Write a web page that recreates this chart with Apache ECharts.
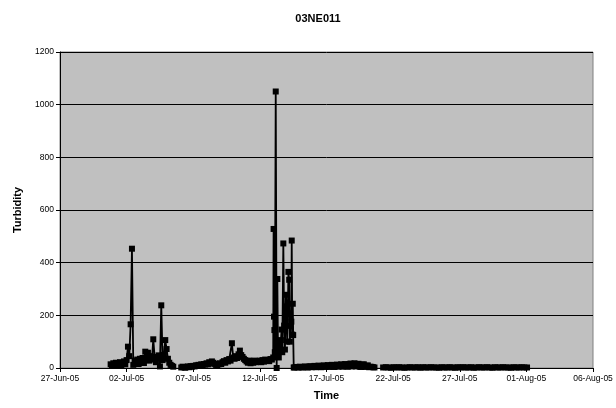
<!DOCTYPE html>
<html>
<head>
<meta charset="utf-8">
<script src="https://cdn.jsdelivr.net/npm/echarts@6/dist/echarts.min.js"></script>
<style>html,body{margin:0;padding:0;background:#fff}#c{width:616px;height:408px}</style>
</head>
<body>
<div id="c"></div>
<script>
// x values are days after 27-Jun-05 00:00
const tickLabels = ['27-Jun-05','02-Jul-05','07-Jul-05','12-Jul-05','17-Jul-05','22-Jul-05','27-Jul-05','01-Aug-05','06-Aug-05'];
const yTicks = [0, 200, 400, 600, 800, 1000, 1200];

const segAStart = 3.8, segAStep = 0.1;
const segAValues = [14,8,18,10,20,9,18,22,11,20,25,14,30,81,45,166,453,12,28,18,32,15,35,22,38,19,62,30,58,28,45,32,109,42,22,38,48,6,238,30,50,106,72,35,20,12,8,5];

const segBStart = 9.1, segBStep = 0.1;
const segBValues = [2,5,3,1,4,6,3,7,5,
  8,6,10,9,12,8,14,11,15,13,
  18,14,22,17,25,20,16,12,9,14,
  18,15,22,26,20,30,25,34,28,94,
  40,35,45,38,52,66,49,42,35,30,
  25,20,28,18,24,20,28,22,26,25,
  28,22,30,24,32,27,30,26,34,32];

const stormDays   = [16.0,16.03,16.06,16.09,16.12,16.19,16.26,16.31,16.36,16.42,16.47,16.53,16.58,16.63,16.68,16.76,16.82,16.88,16.96,17.0,17.05,17.1,17.14,17.2,17.25,17.3,17.36,17.39,17.43,17.47,17.5,17.54];
const stormValues = [40,528,195,144,60,1050,0,338,60,40,70,89,106,146,60,473,161,70,278,234,100,208,365,335,100,160,176,484,127,244,125,2];

const segCStart = 17.6, segCStep = 0.1;
const segCValues = [2,4,3,2,5,3,2,4,6,3,
  2,5,7,3,4,8,3,6,9,4,
  3,8,10,4,6,11,4,9,12,5,
  4,11,13,5,8,14,5,12,15,6,
  5,14,17,6,10,18,6,15,16,5,
  4,13,14,4,8,10,3,5,4,3,2];

const segDStart = 24.25, segDStep = 0.2;
const segDValues = [2,3,2,1,3,2,3,2,1,2,3,2,2,3,1,3,2,2,3,2,2,1,3,2,2,3,2,1,3,2,3,2,2,3,1,2,3,2,2,3,2,1,3,2,2,3,2,2,1,3,2,2,3,2,2];

function seg(start, step, vals) {
  return vals.map((v, i) => [+(start + i * step).toFixed(3), v]);
}
const seriesA = seg(segAStart, segAStep, segAValues);
const seriesB = seg(segBStart, segBStep, segBValues)
  .concat(stormDays.map((d, i) => [d, stormValues[i]]))
  .concat(seg(segCStart, segCStep, segCValues));
const seriesD = seg(segDStart, segDStep, segDValues);

const FONT = 'Liberation Sans, Arial, sans-serif';
function mk(data) {
  return {
    type: 'line', data: data, symbol: 'rect', symbolSize: 6,
    itemStyle: { color: '#000' },
    lineStyle: { color: '#000', width: 1.8 },
    animation: false, silent: true
  };
}
const chart = echarts.init(document.getElementById('c'), null, { renderer: 'canvas' });
chart.setOption({
  backgroundColor: '#fff',
  animation: false,
  title: {
    text: '03NE011', left: 313, top: 8, textAlign: 'center',
    textStyle: { fontFamily: FONT, fontSize: 11, fontWeight: 'bold', color: '#000' }
  },
  grid: {
    left: 60, right: 23, top: 52, bottom: 40, show: true,
    backgroundColor: '#C0C0C0', borderColor: '#808080', borderWidth: 1
  },
  xAxis: {
    type: 'value', min: 0, max: 40, interval: 5,
    name: 'Time', nameLocation: 'middle', nameGap: 22,
    nameTextStyle: { fontFamily: FONT, fontSize: 11, fontWeight: 'bold', color: '#000' },
    axisLine: { show: true, lineStyle: { color: '#000', width: 1 } },
    axisTick: { show: true, inside: false, length: 4, lineStyle: { color: '#000' } },
    axisLabel: {
      margin: 6, fontFamily: FONT, fontSize: 8.5, color: '#000',
      formatter: v => tickLabels[Math.round(v / 5)]
    },
    splitLine: { show: false }
  },
  yAxis: {
    type: 'value', min: yTicks[0], max: yTicks[yTicks.length - 1], interval: 200,
    name: 'Turbidity', nameLocation: 'middle', nameGap: 37,
    nameTextStyle: { fontFamily: FONT, fontSize: 11, fontWeight: 'bold', color: '#000' },
    axisLine: { show: true, lineStyle: { color: '#000', width: 1 } },
    axisTick: { show: true, inside: false, length: 4, lineStyle: { color: '#000' } },
    axisLabel: { margin: 6, fontFamily: FONT, fontSize: 8.5, color: '#000', formatter: v => String(v) },
    splitLine: { show: true, lineStyle: { color: '#000', width: 1 } }
  },
  series: [mk(seriesA), mk(seriesB), mk(seriesD)]
});
</script>
</body>
</html>
